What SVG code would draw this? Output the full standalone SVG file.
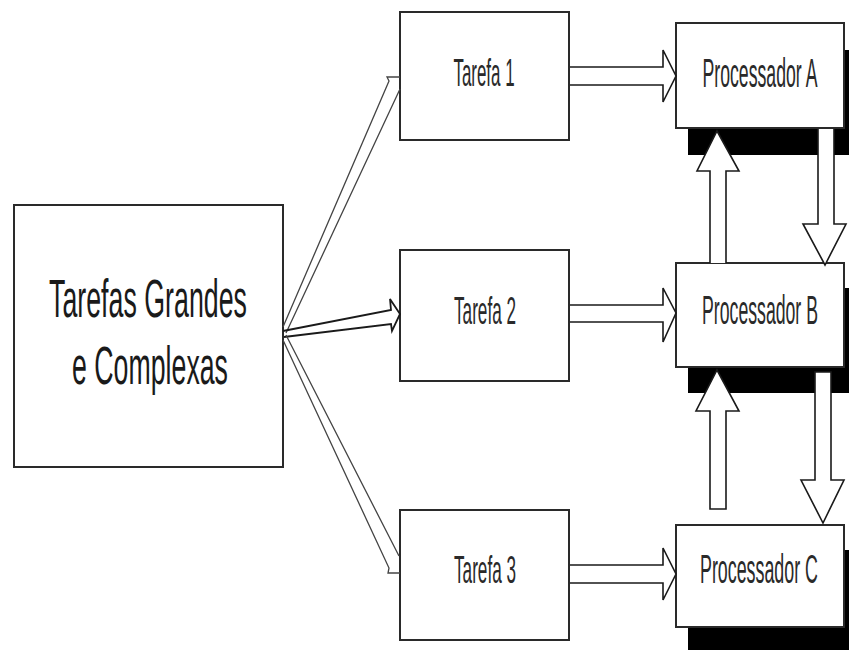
<svg xmlns="http://www.w3.org/2000/svg" width="849" height="650" viewBox="0 0 849 650">
  <style>
    .box { fill: #ffffff; stroke: #2a2a2a; stroke-width: 2; }
    .shadow { fill: #000000; stroke: none; }
    .lbl { font-family: "Liberation Sans", Arial, sans-serif; fill: #2a2a2a; text-anchor: middle; }
    .small { font-size: 39px; }
    .proc { font-size: 40px; }
    .big { font-size: 54px; fill: #1a1a1a; }
    .block { fill: #ffffff; stroke: #1a1a1a; stroke-width: 1.6; stroke-linejoin: miter; }
    .thin { fill: none; stroke: #444444; stroke-width: 1.3; }
    .thick { fill: none; stroke: #1a1a1a; stroke-width: 1.8; }
  </style>

  <rect width="849" height="650" fill="#ffffff"/>

  <!-- source -->
  <g id="tarefas-grandes">
    <rect class="box" x="14" y="205" width="269" height="262"/>
    <text class="lbl big" transform="translate(148,317) scale(0.496,1)">Tarefas Grandes</text>
    <text class="lbl big" transform="translate(150,384) scale(0.495,1)">e Complexas</text>
  </g>

  <!-- sub-tasks -->
  <g id="tarefa-1">
    <rect class="box" x="400" y="12" width="169" height="128"/>
    <text class="lbl small" transform="translate(484,86) scale(0.434,1)">Tarefa 1</text>
  </g>
  <g id="tarefa-2">
    <rect class="box" x="400" y="250" width="169" height="131"/>
    <text class="lbl small" transform="translate(485,324) scale(0.44,1)">Tarefa 2</text>
  </g>
  <g id="tarefa-3">
    <rect class="box" x="400" y="510" width="169" height="130"/>
    <text class="lbl small" transform="translate(485,583) scale(0.44,1)">Tarefa 3</text>
  </g>

  <!-- processors with drop shadows -->
  <g id="processador-a">
    <rect class="shadow" x="688" y="50" width="168" height="105"/>
    <rect class="box" x="676" y="23" width="168" height="105"/>
    <text class="lbl proc" transform="translate(760,87) scale(0.442,1)">Processador A</text>
  </g>
  <g id="processador-b">
    <rect class="shadow" x="688" y="288" width="168" height="105"/>
    <rect class="box" x="676" y="263" width="168" height="104"/>
    <text class="lbl proc" transform="translate(760,324) scale(0.442,1)">Processador B</text>
  </g>
  <g id="processador-c">
    <rect class="shadow" x="688" y="550" width="168" height="105"/>
    <rect class="box" x="676" y="525" width="168" height="102"/>
    <text class="lbl proc" transform="translate(759,583) scale(0.446,1)">Processador C</text>
  </g>

  <g id="connectors">
    <!-- split into sub-tasks -->
    <path class="thin" d="M283,327 L389,81 L387,77 L400,77 M286,333 L400,89"/>
    <path class="thick" d="M283,331 L391,310 L390,299 L400,314 L392,331 L391,324 L284,337"/>
    <path class="thin" d="M286,335 L399,556 M283,340 L389,568 L388,573 L400,573"/>

    <!-- sub-task to processor -->
    <path class="block" d="M570,67 L663,67 L663,50 L676,76 L663,102 L663,85 L570,85"/>
    <path class="block" d="M570,305 L663,305 L663,288 L676,313 L663,342 L663,322 L570,322"/>
    <path class="block" d="M570,565 L663,565 L663,548 L676,574 L663,600 L663,583 L570,583"/>

    <!-- exchange between processors -->
    <path class="block" d="M710,263 L710,171 L697,171 L717,131 L739,171 L726,171 L726,263"/>
    <path class="block" d="M818,129 L818,224 L803,224 L825,265 L846,224 L834,224 L834,129"/>
    <path class="block" d="M710,509 L710,411 L696,411 L717,370 L739,411 L726,411 L726,509 Z"/>
    <path class="block" d="M815,372 L815,480 L801,480 L823,523 L844,480 L831,480 L831,372 Z"/>
  </g>
</svg>
